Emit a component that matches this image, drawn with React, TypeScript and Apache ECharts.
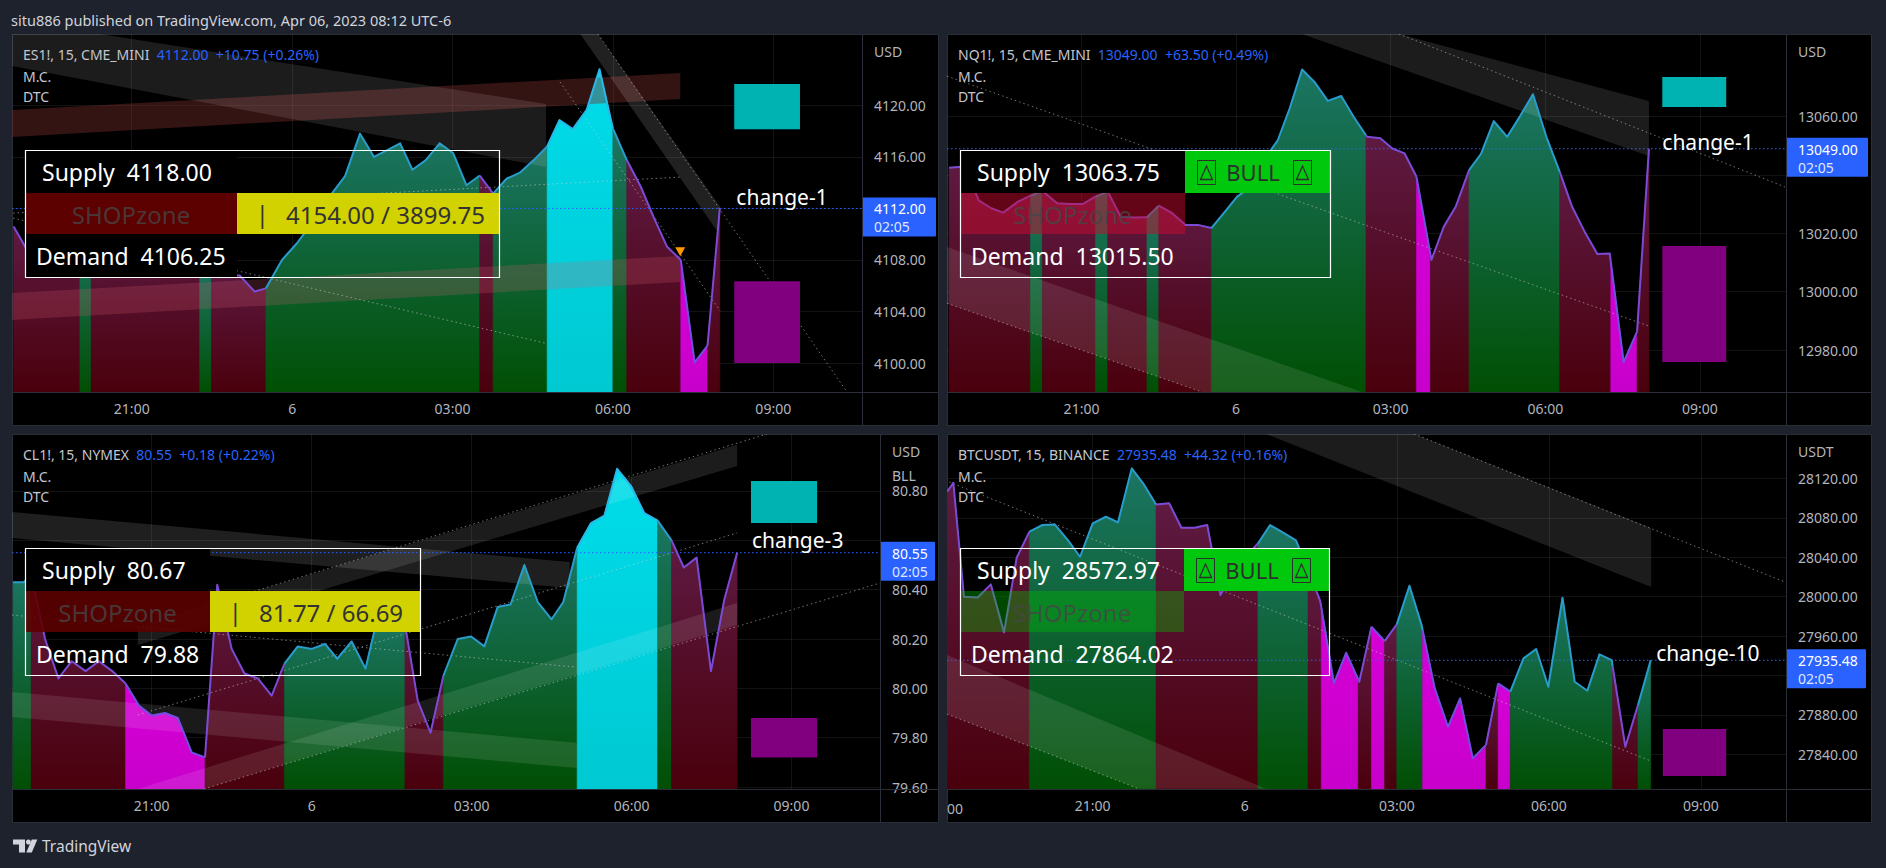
import React, { useEffect, useRef } from 'react';
import * as echarts from 'echarts';

const FONT = "'Noto Sans', 'DejaVu Sans', sans-serif";

// ---------- shared time axis (hours relative to midnight Apr 6) ----------
const timeTicks = [-3, 0, 3, 6, 9];
const timeTickLabels = ['21:00', '6', '03:00', '06:00', '09:00'];
const countdown = '02:05';

// ---------- ES1! ----------
const esTimes = [-5.21, -4.96, -4.62, -4.28, -4.0, -3.76, -3.44, -3.05, -2.71, -2.21, -1.98, -1.7, -1.54, -1.26, -0.98, -0.7, -0.49, -0.19, 0.09, 0.37, 0.65, 0.99, 1.27, 1.53, 1.77, 2.02, 2.25, 2.5, 2.76, 3.01, 3.26, 3.51, 3.76, 4.01, 4.27, 4.52, 4.77, 5.0, 5.25, 5.51, 5.75, 6.0, 6.26, 6.52, 6.76, 7.01, 7.27, 7.53, 7.77, 8.0];
const esPrices = [4110.6, 4108.8, 4109.0, 4109.0, 4109.0, 4110.25, 4108.25, 4108.25, 4107.9, 4106.8, 4106.8, 4107.2, 4107.6, 4106.8, 4106.8, 4105.55, 4105.8, 4108.0, 4109.3, 4110.85, 4112.65, 4114.5, 4117.8, 4116.0, 4116.5, 4117.05, 4115.0, 4115.75, 4117.05, 4116.3, 4113.8, 4114.55, 4113.15, 4114.3, 4114.8, 4115.75, 4116.8, 4118.85, 4118.15, 4119.65, 4122.8, 4118.2, 4115.75, 4113.7, 4111.35, 4109.05, 4108.0, 4100.05, 4101.35, 4112.0];
const esBands = [[-5.21, -3.97, 'r'], [-3.97, -3.76, 'g'], [-3.76, -1.73, 'r'], [-1.73, -1.51, 'g'], [-1.51, -0.49, 'r'], [-0.49, 3.51, 'g'], [3.51, 3.76, 'r'], [3.76, 4.77, 'g'], [4.77, 6.0, 'c'], [6.0, 6.26, 'g'], [6.26, 7.27, 'r'], [7.27, 7.77, 'm'], [7.77, 8.0, 'r']];
const esPriceTicks = [4100, 4104, 4108, 4112, 4116, 4120];
const esLast = 4112.0;
const esChg = 10.75;
const esChgPct = 0.26;
const esSupply = 4118.0;
const esDemand = 4106.25;
const esRange = [4154.0, 3899.75];
const esSupplyZone = [8.27, 9.5, 4121.65, 4118.15];
const esDemandZone = [8.27, 9.5, 4106.36, 4100.0];
const esSignal = [7.26, 4108.6];
const esChangeAt = [8.31, 4112.88];
const esChannels = [
  [[-5.24, 4119.64], [7.26, 4122.51], [7.26, 4120.49], [-5.24, 4117.54]],
  [[-5.24, 4125.53], [-3.59, 4125.53], [4.75, 4120.1], [4.75, 4115.21], [-5.24, 4123.05]],
  [[5.39, 4125.53], [5.72, 4125.53], [8.01, 4112.11], [7.95, 4110.25]],
  [[-5.24, 4105.44], [7.26, 4108.31], [7.26, 4106.29], [-5.24, 4103.35]],
];
const esTrendLines = [
  [[5.72, 4125.53], [10.38, 4097.76]],
  [[5.01, 4121.81], [8.01, 4104.04]],
  [[-5.22, 4111.64], [7.26, 4114.43]],
  [[-5.22, 4111.25], [4.73, 4101.55]],
];

// ---------- NQ1! ----------
const nqTimes = [-5.57, -5.28, -4.99, -4.75, -4.52, -4.23, -3.99, -3.76, -3.47, -3.23, -2.97, -2.73, -2.49, -2.24, -2.0, -1.73, -1.5, -1.24, -0.98, -0.74, -0.48, -0.22, 0.02, 0.28, 0.54, 0.81, 1.04, 1.28, 1.53, 1.78, 2.04, 2.28, 2.54, 2.8, 3.03, 3.27, 3.5, 3.79, 4.03, 4.26, 4.52, 4.75, 5.0, 5.26, 5.51, 5.76, 6.02, 6.28, 6.52, 6.78, 7.01, 7.25, 7.52, 7.78, 8.01];
const nqPrices = [13042.5, 13042.9, 13031.2, 13028.6, 13027.1, 13030.9, 13032.9, 13034.5, 13030.3, 13030.1, 13030.1, 13032.6, 13034.3, 13025.7, 13025.4, 13025.5, 13029.5, 13026.9, 13022.9, 13022.9, 13021.8, 13027.4, 13032.6, 13035.8, 13045.1, 13052.0, 13062.9, 13076.2, 13071.7, 13065.4, 13067.1, 13060.0, 13053.1, 13052.6, 13049.1, 13047.4, 13039.4, 13010.9, 13022.3, 13029.1, 13041.7, 13047.2, 13058.5, 13053.1, 13060.2, 13067.7, 13053.1, 13041.1, 13029.1, 13020.0, 13012.9, 13013.1, 12975.8, 12986.3, 13049.0];
const nqBands = [[-5.57, -3.99, 'r'], [-3.99, -3.76, 'g'], [-3.76, -2.73, 'r'], [-2.73, -2.49, 'g'], [-2.49, -1.73, 'r'], [-1.73, -1.5, 'g'], [-1.5, -0.48, 'r'], [-0.48, 2.52, 'g'], [2.52, 3.5, 'r'], [3.5, 3.77, 'm'], [3.77, 4.52, 'r'], [4.52, 6.28, 'g'], [6.28, 7.27, 'r'], [7.27, 7.78, 'm'], [7.78, 8.01, 'r']];
const nqPriceTicks = [12980, 13000, 13020, 13040, 13060];
const nqLast = 13049.0;
const nqChg = 63.5;
const nqChgPct = 0.49;
const nqSupply = 13063.75;
const nqDemand = 13015.5;
const nqSupplyZone = [8.27, 9.51, 13073.6, 13063.3];
const nqDemandZone = [8.27, 9.51, 13015.65, 12975.9];
const nqChangeAt = [8.27, 13051.3];
const nqChannels = [
  [[1.277, 13088.35], [3.16, 13088.35], [8.01, 13065.4], [8.01, 13046.5]],
  [[-5.61, 13015.3], [2.44, 12965.6], [-0.66, 12965.6], [-5.61, 12996.0]],
];
const nqTrendLines = [
  [[3.16, 13088.35], [10.65, 13035.9]],
  [[-5.61, 13073.9], [8.01, 12988.2]],
  [[-5.61, 12996.0], [-0.66, 12965.6]],
];

// ---------- CL1! ----------
const clTimes = [-5.6, -5.4, -5.26, -5.0, -4.75, -4.5, -4.24, -3.99, -3.74, -3.49, -3.24, -3.0, -2.75, -2.51, -2.25, -2.0, -1.77, -1.5, -1.26, -1.01, -0.75, -0.51, -0.26, 0.0, 0.25, 0.48, 0.75, 1.01, 1.24, 1.48, 1.75, 1.99, 2.23, 2.47, 2.74, 2.99, 3.24, 3.49, 3.73, 3.99, 4.24, 4.5, 4.72, 4.98, 5.24, 5.49, 5.73, 5.99, 6.24, 6.49, 6.75, 6.98, 7.22, 7.49, 7.74, 7.98];
const clPrices = [80.43, 80.43, 80.46, 80.2, 80.04, 80.11, 80.07, 80.11, 80.07, 80.02, 79.93, 79.89, 79.9, 79.88, 79.74, 79.72, 80.42, 80.16, 80.06, 80.04, 79.97, 80.1, 80.17, 80.16, 80.18, 80.12, 80.19, 80.08, 80.29, 80.25, 80.26, 79.95, 79.82, 80.05, 80.2, 80.21, 80.17, 80.33, 80.34, 80.5, 80.35, 80.28, 80.35, 80.57, 80.67, 80.7, 80.89, 80.82, 80.71, 80.68, 80.6, 80.49, 80.53, 80.07, 80.36, 80.55];
const clBands = [[-5.6, -5.26, 'g'], [-5.26, -3.49, 'r'], [-3.49, -2.0, 'm'], [-2.0, -0.51, 'r'], [-0.51, 1.75, 'g'], [1.75, 2.47, 'r'], [2.47, 4.98, 'g'], [4.98, 6.49, 'c'], [6.49, 6.75, 'g'], [6.75, 7.98, 'r']];
const clPriceTicks = [79.6, 79.8, 80.0, 80.2, 80.4, 80.6, 80.8];
const clLast = 80.55;
const clChg = 0.18;
const clChgPct = 0.22;
const clSupply = 80.67;
const clDemand = 79.88;
const clRange = [81.77, 66.69];
const clSupplyZone = [8.24, 9.48, 80.84, 80.67];
const clDemandZone = [8.24, 9.48, 79.88, 79.72];
const clChangeAt = [8.26, 80.6];
const clChannels = [
  [[-5.62, 80.715], [4.84, 80.512], [4.84, 80.407], [-5.62, 80.609]],
  [[-3.26, 80.249], [7.98, 80.987], [7.98, 80.901], [-3.26, 80.176]],
  [[-3.26, 79.592], [7.98, 80.346], [7.98, 80.257], [-2.02, 79.592]],
  [[-5.62, 79.985], [4.97, 79.779], [4.97, 79.677], [-5.62, 79.884]],
];
const clTrendLines = [
  [[-3.26, 80.249], [8.54, 81.031]],
  [[-2.02, 79.592], [10.66, 80.427]],
  [[-3.26, 79.892], [7.98, 80.63]],
  [[-5.62, 80.297], [4.97, 80.086]],
];

// ---------- BTCUSDT ----------
const btTimes = [-5.87, -5.75, -5.54, -5.27, -5.01, -4.75, -4.5, -4.25, -3.99, -3.75, -3.49, -3.25, -3.0, -2.74, -2.5, -2.23, -1.99, -1.75, -1.49, -1.25, -0.99, -0.74, -0.48, -0.21, 0.02, 0.26, 0.5, 0.75, 1.01, 1.25, 1.49, 1.76, 2.0, 2.26, 2.5, 2.76, 3.0, 3.25, 3.49, 3.75, 4.01, 4.25, 4.5, 4.76, 5.0, 5.24, 5.5, 5.75, 5.99, 6.27, 6.51, 6.76, 7.0, 7.24, 7.51, 7.76, 8.01];
const btPrices = [28106.6, 28115.7, 28000, 27999.3, 28012.5, 27963.8, 28039.6, 28066, 28072.8, 28073.4, 28057.5, 28040.6, 28074.5, 28081.2, 28075.5, 28130.3, 28114, 28093.7, 28094.8, 28070, 28070, 28072.8, 28001.7, 28026.1, 28040.6, 28054.1, 28072.8, 28065.3, 28057.2, 28028.1, 27995.6, 27912, 27943.1, 27913.7, 27969.5, 27955, 27971.9, 28011.2, 27971.2, 27906.9, 27868, 27896.8, 27835.9, 27849.4, 27912, 27903.6, 27937.4, 27946.9, 27908.6, 27999, 27913.7, 27904.6, 27941.5, 27935.7, 27847.7, 27890, 27935.5];
const btBands = [[-5.87, -4.25, 'r'], [-4.25, -1.75, 'g'], [-1.75, 0.26, 'r'], [0.26, 1.25, 'g'], [1.25, 1.51, 'r'], [1.51, 2.24, 'm'], [2.24, 2.5, 'r'], [2.5, 2.76, 'm'], [2.76, 3.0, 'r'], [3.0, 3.51, 'g'], [3.51, 4.76, 'm'], [4.76, 5.0, 'r'], [5.0, 5.24, 'm'], [5.24, 7.26, 'g'], [7.26, 7.76, 'r'], [7.76, 8.01, 'g']];
const btPriceTicks = [27840, 27880, 27920, 27960, 28000, 28040, 28080, 28120];
const btLast = 27935.48;
const btChg = 44.32;
const btChgPct = 0.16;
const btSupply = 28572.97;
const btDemand = 27864.02;
const btDemandZone = [8.25, 9.5, 27865.7, 27818];
const btChangeAt = [8.12, 27942.7];
const btChannels = [
  [[0.42, 28165.2], [3.34, 28165.2], [8.02, 28069.8], [8.02, 28009.9]],
  [[-5.875, 27940.8], [0.42, 27805], [-2.09, 27805], [-5.875, 27880.9]],
];
const btTrendLines = [
  [[3.34, 28165.2], [10.66, 28014.9]],
  [[-5.83, 28116.4], [8.02, 27833.1]],
  [[-5.875, 27880.9], [-2.09, 27805]],
];

// ---------- styles ----------
const FILL: any = {
  g: ['#1b7563', '#014f04'],
  r: ['#5e1a42', '#4a000c'],
  c: ['#00dcea', '#00c9d2'],
  m: ['#d600d6', '#c800cc'],
};
const LINE: any = { g: '#2a9ccc', c: '#2ab8e8', r: '#7b4bd6', m: '#6f4fe0' };
const AXIS_TXT = '#b2b5be';
const BLUE = '#2962ff';

const PANELS: any[] = [
  {
    name: 'ES1!, 15, CME_MINI', last: esLast, chg: esChg, pct: esChgPct,
    times: esTimes, prices: esPrices, bands: esBands, yTicks: esPriceTicks, coveredTick: 4112,
    xr: [-5.24, 10.66], yr: [4097.76, 4125.53],
    grid: [12, 34, 850, 358], frame: [12, 34, 927, 392], labelW: 74, cur: ['USD'],
    supplyZone: esSupplyZone, demandZone: esDemandZone, changeText: 'change-1', changeAt: esChangeAt, signal: esSignal,
    channels: esChannels, channelFills: ['rgba(125,45,45,0.42)', 'rgba(255,255,255,0.11)', 'rgba(255,255,255,0.13)', 'rgba(215,95,115,0.22)'],
    trend: esTrendLines,
    table: { x: 25, y: 150, w: 474, split: 237, supply: esSupply, demand: esDemand, range: esRange, left: '#5c0000', bg1: '#000', bg3: '#000' },
  },
  {
    name: 'NQ1!, 15, CME_MINI', last: nqLast, chg: nqChg, pct: nqChgPct,
    times: nqTimes, prices: nqPrices, bands: nqBands, yTicks: nqPriceTicks, coveredTick: 13040,
    xr: [-5.61, 10.67], yr: [12965.6, 13088.35],
    grid: [947, 34, 839, 358], frame: [947, 34, 925, 392], labelW: 82, cur: ['USD'],
    supplyZone: nqSupplyZone, demandZone: nqDemandZone, changeText: 'change-1', changeAt: nqChangeAt,
    channels: nqChannels, channelFills: ['rgba(255,255,255,0.11)', 'rgba(255,255,255,0.1)'],
    trend: nqTrendLines,
    table: { x: 960, y: 150, w: 370, split: 1185, supply: nqSupply, demand: nqDemand, bull: true, left: 'rgba(200,10,45,0.5)', bg1: '#000' },
  },
  {
    name: 'CL1!, 15, NYMEX', last: clLast, chg: clChg, pct: clChgPct,
    times: clTimes, prices: clPrices, bands: clBands, yTicks: clPriceTicks, coveredTick: 80.6,
    xr: [-5.62, 10.66], yr: [79.592, 81.031],
    grid: [12, 434, 868, 355], frame: [12, 434, 927, 389], labelW: 55, cur: ['USD', 'BLL'],
    supplyZone: clSupplyZone, demandZone: clDemandZone, changeText: 'change-3', changeAt: clChangeAt,
    channels: clChannels, channelFills: ['rgba(255,255,255,0.12)', 'rgba(255,255,255,0.11)', 'rgba(255,255,255,0.1)', 'rgba(255,255,255,0.1)'],
    trend: clTrendLines,
    table: { x: 25, y: 548, w: 395, split: 210, supply: clSupply, demand: clDemand, range: clRange, left: 'rgba(92,0,0,0.9)', bg1: '#000' },
  },
  {
    name: 'BTCUSDT, 15, BINANCE', last: btLast, chg: btChg, pct: btChgPct,
    times: btTimes, prices: btPrices, bands: btBands, yTicks: btPriceTicks, coveredTick: 27920,
    xr: [-5.875, 10.68], yr: [27804.8, 28165.2],
    grid: [947, 434, 839, 355], frame: [947, 434, 925, 389], labelW: 80, cur: ['USDT'],
    demandZone: btDemandZone, changeText: 'change-10', changeAt: btChangeAt,
    channels: btChannels, channelFills: ['rgba(255,255,255,0.11)', 'rgba(255,255,255,0.1)'],
    trend: btTrendLines,
    table: { x: 960, y: 548, w: 369, split: 1184, supply: btSupply, demand: btDemand, bull: true, left: 'rgba(0,190,0,0.38)' },
  },
];

function interp(ts: number[], ps: number[], x: number) {
  const n = ts.length;
  if (x <= ts[0]) return ps[0];
  if (x >= ts[n - 1]) return ps[n - 1];
  for (let i = 1; i < n; i++) {
    if (x <= ts[i]) {
      const t = (x - ts[i - 1]) / (ts[i] - ts[i - 1]);
      return ps[i - 1] + t * (ps[i] - ps[i - 1]);
    }
  }
  return ps[n - 1];
}

function bandPoints(ts: number[], ps: number[], s: number, e: number) {
  const pts: number[][] = [[s, interp(ts, ps, s)]];
  for (let i = 0; i < ts.length; i++) if (ts[i] > s && ts[i] < e) pts.push([ts[i], ps[i]]);
  pts.push([e, interp(ts, ps, e)]);
  return pts;
}

function txt(text: string, x: number, y: number, size: number, fill: string, align = 'left', z = 100, extra: any = {}) {
  return {
    type: 'text', x, y, z, silent: true,
    style: { text, fill, font: `${size}px ${FONT}`, textAlign: align, align, textVerticalAlign: 'middle', verticalAlign: 'middle', ...extra },
  };
}

// boxed triangle glyph of the BULL cell
function boxedDelta(x: number, y: number, out: any[]) {
  out.push({ type: 'rect', z: 61, silent: true, shape: { x: x + 0.5, y: y + 0.5, width: 18, height: 24 }, style: { fill: 'none', stroke: '#2e2e2e', lineWidth: 1 } });
  out.push({ type: 'polygon', z: 61, silent: true, shape: { points: [[x + 9.5, y + 6], [x + 3.5, y + 19.5], [x + 15.5, y + 19.5]] }, style: { fill: 'none', stroke: '#2e2e2e', lineWidth: 1.3 } });
}

function buildOption() {
  const grid: any[] = [];
  const xAxis: any[] = [];
  const yAxis: any[] = [];
  const series: any[] = [];
  const graphic: any[] = [];

  graphic.push(txt('situ886 published on TradingView.com, Apr 06, 2023 08:12 UTC-6', 11, 20, 14.5, '#d1d4dc'));
  // footer logo
  graphic.push({ type: 'polygon', z: 100, shape: { points: [[13, 839.5], [25, 839.5], [25, 852.5], [19, 852.5], [19, 844.5], [13, 844.5]] }, style: { fill: '#d1d4dc' } });
  graphic.push({ type: 'circle', z: 100, shape: { cx: 28.4, cy: 842, r: 2.5 }, style: { fill: '#d1d4dc' } });
  graphic.push({ type: 'polygon', z: 100, shape: { points: [[31.8, 839.5], [37.3, 839.5], [31.8, 852.5], [26.3, 852.5]] }, style: { fill: '#d1d4dc' } });
  graphic.push(txt('TradingView', 42, 846, 15.5, '#d1d4dc'));

  PANELS.forEach((P, i) => {
    const [gl, gt, gw, gh] = P.grid;
    const [fx, fy, fw, fh] = P.frame;
    grid.push({ left: gl, top: gt, width: gw, height: gh, containLabel: false, outerBoundsMode: 'none' });
    xAxis.push({
      type: 'value', gridIndex: i, min: P.xr[0], max: P.xr[1],
      axisLine: { show: false },
      axisTick: { show: false, customValues: timeTicks },
      axisLabel: {
        customValues: timeTicks, color: AXIS_TXT, fontSize: 14, fontFamily: FONT, margin: 9,
        formatter: (v: number) => timeTickLabels[timeTicks.indexOf(Math.round(v))] ?? '',
      },
      splitLine: { show: true, lineStyle: { color: 'rgba(255,255,255,0.075)', width: 1 } },
    });
    yAxis.push({
      type: 'value', gridIndex: i, position: 'right', min: P.yr[0], max: P.yr[1],
      axisLine: { show: false },
      axisTick: { show: false, customValues: P.yTicks },
      axisLabel: {
        // the tick under the current-price label is covered in the reference
        customValues: P.yTicks.filter((v: number) => v !== P.coveredTick), color: AXIS_TXT, fontSize: 14, fontFamily: FONT, margin: 12,
        formatter: (v: number) => v.toFixed(2),
      },
      splitLine: { show: true, lineStyle: { color: 'rgba(255,255,255,0.075)', width: 1 } },
    });

    const base = { type: 'custom', xAxisIndex: i, yAxisIndex: i, silent: true, animation: false };
    const one = [[P.xr[0], P.yr[0]]];

    // area fills, one polygon per colour band
    series.push({
      ...base, z: 2, clip: true,
      data: P.bands.map((b: any) => [b[0], P.yr[0]]),
      renderItem: (params: any, api: any) => {
        const b = P.bands[params.dataIndex];
        const pts = bandPoints(P.times, P.prices, b[0], b[1]).map((p) => api.coord(p));
        pts.push(api.coord([b[1], P.yr[0]]), api.coord([b[0], P.yr[0]]));
        const f = FILL[b[2]];
        const grad = new echarts.graphic.LinearGradient(0, 0, 0, 1, [{ offset: 0, color: f[0] }, { offset: 1, color: f[1] }]);
        return { type: 'polygon', shape: { points: pts }, style: { fill: grad, stroke: grad, lineWidth: 0.6 } };
      },
    });

    // translucent channels
    series.push({
      ...base, z: 3, clip: true,
      data: P.channels.map(() => [P.xr[0], P.yr[0]]),
      renderItem: (params: any, api: any) => {
        const c = P.channels[params.dataIndex];
        return { type: 'polygon', shape: { points: c.map((p: number[]) => api.coord(p)) }, style: { fill: P.channelFills[params.dataIndex] } };
      },
    });

    // dotted trend lines
    series.push({
      ...base, z: 4, clip: true,
      data: P.trend.map(() => [P.xr[0], P.yr[0]]),
      renderItem: (params: any, api: any) => {
        const t = P.trend[params.dataIndex];
        return { type: 'polyline', shape: { points: t.map((p: number[]) => api.coord(p)) }, style: { stroke: 'rgba(210,210,210,0.55)', lineWidth: 1, lineDash: [1.5, 3], fill: 'none' } };
      },
    });

    // current price dotted line
    series.push({
      ...base, z: 4, clip: true, data: one,
      renderItem: (params: any, api: any) => ({
        type: 'polyline',
        shape: { points: [api.coord([P.xr[0], P.last]), api.coord([P.xr[1], P.last])] },
        style: { stroke: BLUE, lineWidth: 1, lineDash: [1.5, 2.5], fill: 'none' },
      }),
    });

    // main line
    series.push({
      ...base, z: 5, clip: true,
      data: P.bands.map((b: any) => [b[0], P.yr[0]]),
      renderItem: (params: any, api: any) => {
        const b = P.bands[params.dataIndex];
        const pts = bandPoints(P.times, P.prices, b[0], b[1]).map((p) => api.coord(p));
        return { type: 'polyline', shape: { points: pts }, style: { stroke: LINE[b[2]], lineWidth: 2, fill: 'none', lineJoin: 'round' } };
      },
    });

    // zones, change label, signal marker
    series.push({
      ...base, z: 6, clip: false, data: one,
      renderItem: (params: any, api: any) => {
        const children: any[] = [];
        const zone = (zz: number[], color: string) => {
          const a = api.coord([zz[0], zz[2]]);
          const b = api.coord([zz[1], zz[3]]);
          children.push({ type: 'rect', shape: { x: a[0], y: a[1], width: b[0] - a[0], height: b[1] - a[1] }, style: { fill: color } });
        };
        if (P.supplyZone) zone(P.supplyZone, '#00b3b3');
        if (P.demandZone) zone(P.demandZone, '#800080');
        const c = api.coord(P.changeAt);
        children.push({ type: 'text', x: c[0], y: c[1], style: { text: P.changeText, fill: '#ffffff', font: `21px ${FONT}`, textAlign: 'left', align: 'left', textVerticalAlign: 'middle', verticalAlign: 'middle' } });
        if (P.signal) {
          const s = api.coord(P.signal);
          children.push({ type: 'polygon', shape: { points: [[s[0] - 5, s[1] - 5], [s[0] + 5, s[1] - 5], [s[0], s[1] + 4]] }, style: { fill: '#ff9800' } });
        }
        return { type: 'group', children };
      },
    });

    // price label on the axis
    series.push({
      ...base, z: 20, clip: false, data: one,
      renderItem: (params: any, api: any) => {
        const p = api.coord([P.xr[1], P.last]);
        return {
          type: 'group', children: [
            { type: 'rect', shape: { x: p[0], y: p[1] - 11, width: P.labelW, height: 39, r: 1 }, style: { fill: BLUE } },
            { type: 'text', x: p[0] + 12, y: p[1] + 0.5, style: { text: P.last.toFixed(2), fill: '#ffffff', font: `14px ${FONT}`, textAlign: 'left', align: 'left', textVerticalAlign: 'middle', verticalAlign: 'middle' } },
            { type: 'text', x: p[0] + 12, y: p[1] + 18.5, style: { text: countdown, fill: '#dfe6ff', font: `14px ${FONT}`, textAlign: 'left', align: 'left', textVerticalAlign: 'middle', verticalAlign: 'middle' } },
          ],
        };
      },
    });

    // ---- frame & layout graphics ----
    graphic.push({ type: 'rect', z: -10, silent: true, shape: { x: fx + 0.5, y: fy + 0.5, width: fw - 1, height: fh - 1 }, style: { fill: '#000000', stroke: '#2a2e39', lineWidth: 1 } });
    graphic.push({ type: 'line', z: 50, silent: true, shape: { x1: gl + gw + 0.5, y1: fy, x2: gl + gw + 0.5, y2: fy + fh }, style: { stroke: '#2a2e39', lineWidth: 1 } });
    graphic.push({ type: 'line', z: 50, silent: true, shape: { x1: fx, y1: gt + gh + 0.5, x2: fx + fw, y2: gt + gh + 0.5 }, style: { stroke: '#2a2e39', lineWidth: 1 } });

    // header
    const tx = fx + 11;
    graphic.push({
      type: 'text', x: tx, y: fy + 20, z: 100, silent: true,
      style: {
        text: `{a|${P.name}}  {b|${P.last.toFixed(2)}  +${P.chg.toFixed(2)} (+${P.pct.toFixed(2)}%)}`,
        font: `14px ${FONT}`, textVerticalAlign: 'middle', verticalAlign: 'middle',
        rich: { a: { fill: '#c3c6ce', font: `14px ${FONT}` }, b: { fill: BLUE, font: `14px ${FONT}` } },
      },
    });
    graphic.push(txt('M.C.', tx, fy + 42, 14, '#c3c6ce'));
    graphic.push(txt('DTC', tx, fy + 62, 14, '#c3c6ce'));
    P.cur.forEach((c: string, k: number) => graphic.push(txt(c, gl + gw + 12, fy + 17 + k * 24, 14, AXIS_TXT)));

    // ---- info table ----
    const T = P.table;
    const r1 = T.y, r2 = T.y + 43, r3 = T.y + 84, bottom = T.y + 127;
    const rightW = T.x + T.w - T.split;
    if (T.bg1) graphic.push({ type: 'rect', z: 60, silent: true, shape: { x: T.x, y: r1, width: T.split - T.x, height: 43 }, style: { fill: T.bg1 } });
    if (T.bg3) graphic.push({ type: 'rect', z: 60, silent: true, shape: { x: T.x, y: r3, width: T.split - T.x, height: 43 }, style: { fill: T.bg3 } });
    graphic.push({ type: 'rect', z: 60, silent: true, shape: { x: T.x, y: r2, width: T.split - T.x, height: 41 }, style: { fill: T.left } });
    graphic.push(txt('SHOPzone', (T.x + T.split) / 2, r2 + 21, 24, 'rgba(70,70,70,0.8)', 'center', 61));
    if (T.bull) {
      graphic.push({ type: 'rect', z: 60, silent: true, shape: { x: T.split, y: r1, width: rightW, height: 43 }, style: { fill: '#00c80c' } });
      graphic.push(txt('BULL', T.split + 68, r1 + 22, 22, '#2e2e2e', 'center', 61));
      boxedDelta(T.split + 12, r1 + 10, graphic);
      boxedDelta(T.split + 108, r1 + 10, graphic);
    }
    if (T.range) {
      graphic.push({ type: 'rect', z: 60, silent: true, shape: { x: T.split, y: r2, width: rightW, height: 41 }, style: { fill: '#d2d200' } });
      graphic.push(txt('|', T.split + 19, r2 + 21, 23, '#333333', 'left', 61));
      graphic.push(txt(`${T.range[0].toFixed(2)} / ${T.range[1].toFixed(2)}`, T.split + 49, r2 + 21, 24, '#333333', 'left', 61));
    }
    graphic.push(txt(`Supply  ${T.supply.toFixed(2)}`, T.x + 17, r1 + 22, 23, '#ffffff', 'left', 61));
    graphic.push(txt(`Demand  ${T.demand.toFixed(2)}`, T.x + 11, r3 + 22, 23, '#ffffff', 'left', 61));
    graphic.push({ type: 'rect', z: 62, silent: true, shape: { x: T.x + 0.5, y: T.y + 0.5, width: T.w, height: bottom - T.y }, style: { fill: 'none', stroke: '#ffffff', lineWidth: 1.2 } });
  });

  // clipped 18:00 label at the left of the BTC time axis
  graphic.push(txt('00', 947, 808, 14, AXIS_TXT, 'left', 100));

  return { animation: false, backgroundColor: '#1e222d', grid, xAxis, yAxis, series, graphic };
}

export default function App() {
  const ref = useRef<HTMLDivElement>(null);
  useEffect(() => {
    const chart = echarts.init(ref.current as HTMLDivElement, null, { renderer: 'svg', width: 1886, height: 868 });
    chart.setOption(buildOption() as any);
    return () => chart.dispose();
  }, []);
  return <div ref={ref} style={{ position: 'fixed', left: 0, top: 0, width: 1886, height: 868 }} />;
}
